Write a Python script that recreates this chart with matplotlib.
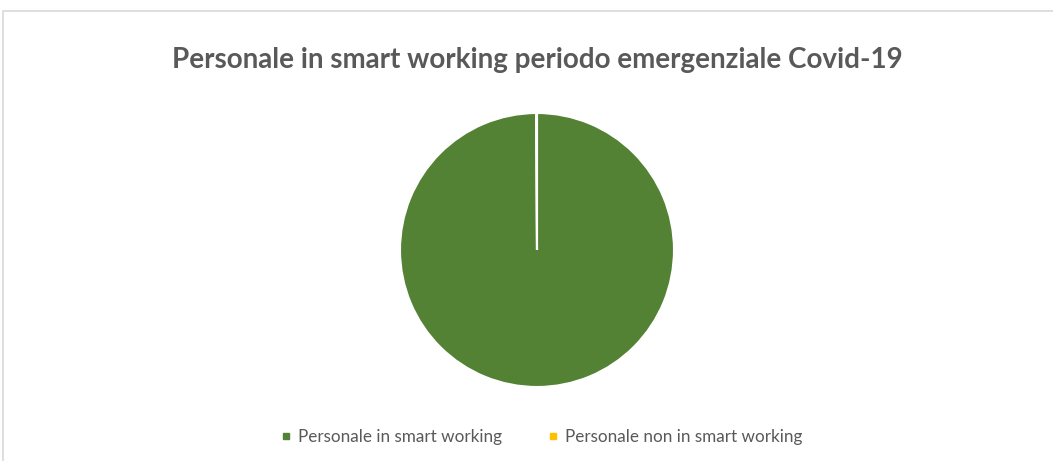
import matplotlib.pyplot as plt
from matplotlib.lines import Line2D
from matplotlib.patches import Rectangle

# data
labels = ['Personale in smart working', 'Personale non in smart working']
values = [99.9, 0.1]
colors = ['#548235', '#FFC000']

W, H = 1053, 461
fig = plt.figure(figsize=(W / 100, H / 100), dpi=100)
fig.patch.set_facecolor('white')

# chart frame
fig.patches.append(Rectangle((3 / W, -0.1), 1.1, (H - 11) / H + 0.1,
                             transform=fig.transFigure, fill=False,
                             edgecolor='#d9d9d9', linewidth=1.2))

fig.text(537 / W, 1 - 60 / H, 'Personale in smart working periodo emergenziale Covid-19',
         ha='center', va='center', fontsize=20, fontweight='bold',
         color='#595959', family='Lato')

# pie
cx, cy, r = 537, 250, 137
ax = fig.add_axes([(cx - r) / W, (H - cy - r) / H, 2 * r / W, 2 * r / H])
ax.pie(values, colors=colors, startangle=90, counterclock=False,
       wedgeprops=dict(edgecolor='white', linewidth=1.5))
ax.set_aspect('auto')
ax.set_xlim(-1, 1)
ax.set_ylim(-1, 1)
ax.axis('off')

# legend
handles = [Line2D([], [], marker='s', linestyle='', markersize=5,
                  markerfacecolor=c, markeredgecolor=c) for c in colors]
fig.legend(handles, labels, loc='center', bbox_to_anchor=(541 / W, 1 - 437 / H),
           ncol=2, frameon=False, handlelength=0.8, handletextpad=0.3,
           columnspacing=2.6,
           prop={'family': 'Lato', 'size': 12.3}, labelcolor='#595959')

fig.savefig('out.png', dpi=100)
